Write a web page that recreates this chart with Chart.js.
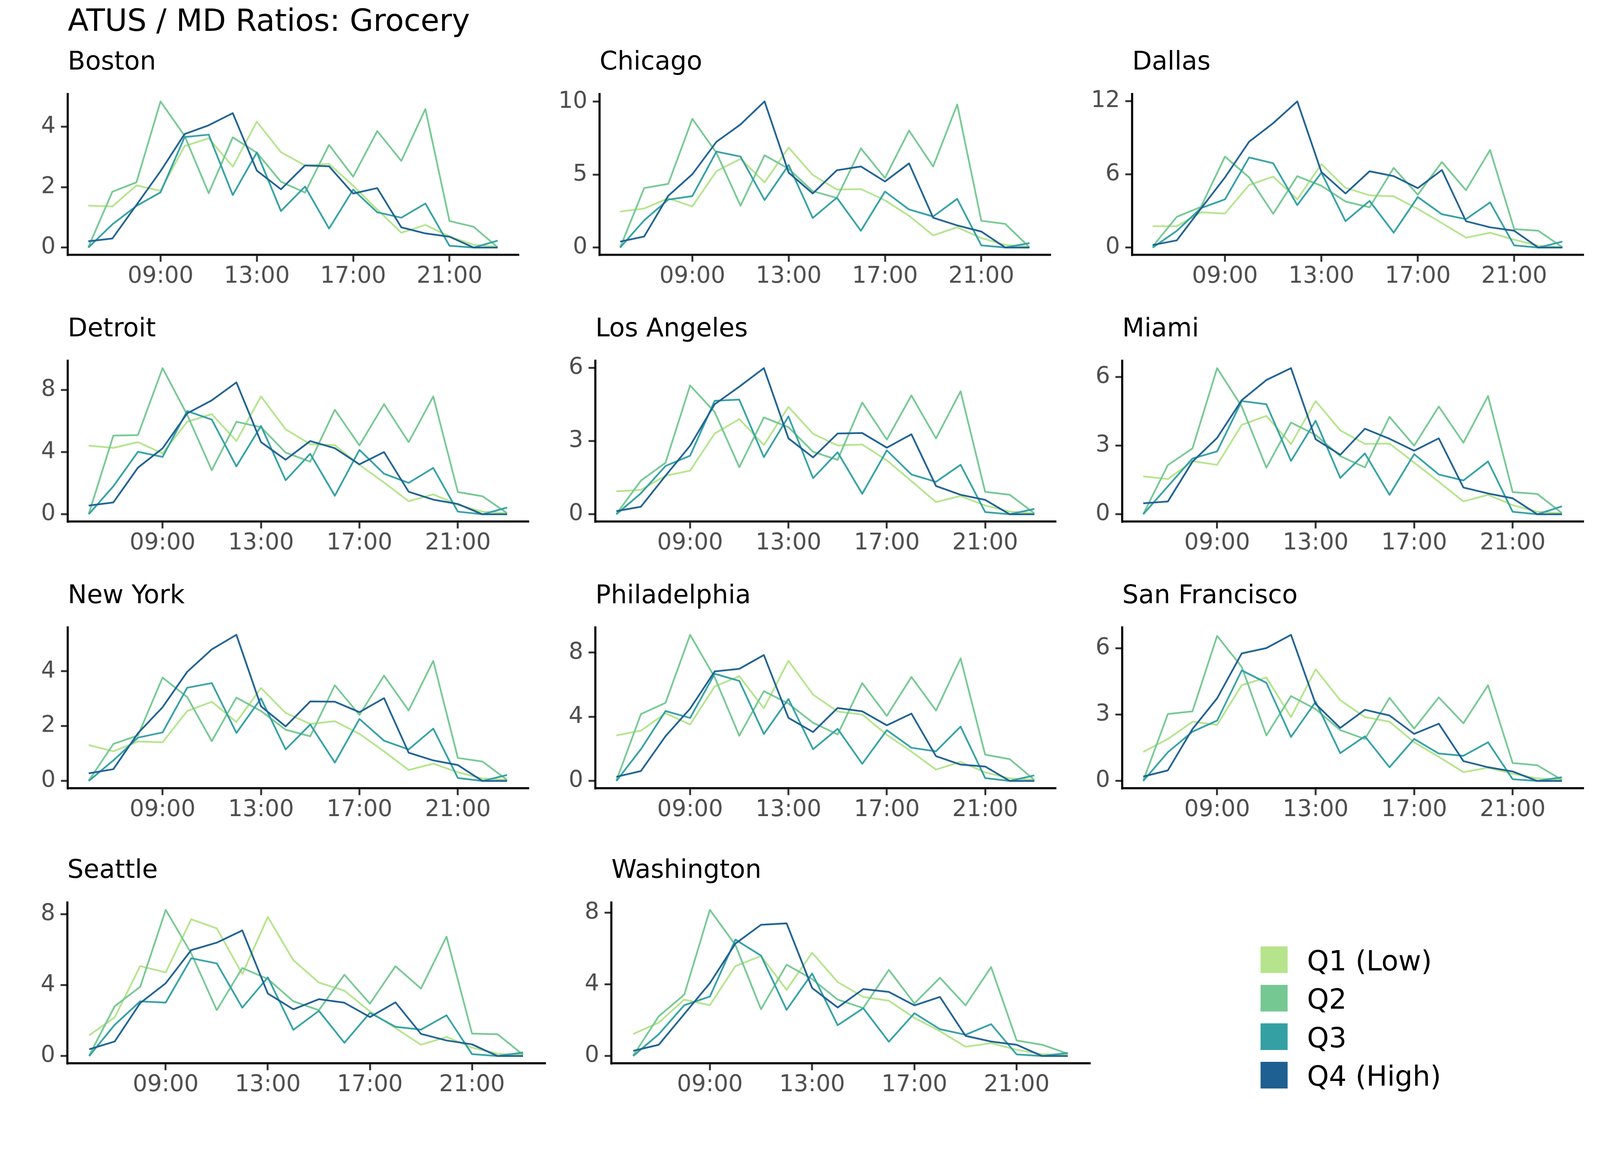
<!DOCTYPE html>
<html>
<head>
<meta charset="utf-8">
<script src="https://cdn.jsdelivr.net/npm/chart.js@4.4.1/dist/chart.umd.min.js"></script>
<style>
  html, body { margin: 0; padding: 0; background: #fff; overflow: hidden; }
  #stage { position: absolute; left: 0; top: 0; width: 4200px; height: 3000px; transform-origin: 0 0; font-family: "DejaVu Sans", sans-serif; background: #fff; }
  .txt { position: absolute; white-space: nowrap; line-height: 1; color: #000; }
  .key { position: absolute; }
  canvas { position: absolute; }
</style>
</head>
<body>
<div id="stage"></div>
<script>
// hours of the day on the x axis
const HOURS = [6, 7, 8, 9, 10, 11, 12, 13, 14, 15, 16, 17, 18, 19, 20, 21, 22, 23];
const X_TICKS = [9, 13, 17, 21];
const SERIES_LABELS = ["Q1 (Low)", "Q2", "Q3", "Q4 (High)"];
const CITIES = ["Boston", "Chicago", "Dallas", "Detroit", "Los Angeles", "Miami",
                "New York", "Philadelphia", "San Francisco", "Seattle", "Washington"];

// values, 06:00 .. 23:00
const bostonQ1 = [1.39, 1.36, 2.06, 1.88, 3.36, 3.62, 2.68, 4.17, 3.16, 2.72, 2.77, 2.05, 1.26, 0.49, 0.75, 0.37, 0.09, 0.03];
const bostonQ2 = [0.01, 1.85, 2.16, 4.84, 3.70, 1.80, 3.65, 3.14, 2.18, 1.82, 3.40, 2.35, 3.86, 2.87, 4.59, 0.88, 0.69, 0.01];
const bostonQ3 = [0.00, 0.77, 1.38, 1.83, 3.66, 3.74, 1.74, 3.15, 1.21, 2.02, 0.63, 1.92, 1.17, 0.99, 1.46, 0.06, 0.00, 0.23];
const bostonQ4 = [0.21, 0.30, 1.41, 2.53, 3.76, 4.05, 4.45, 2.55, 1.93, 2.72, 2.69, 1.79, 1.97, 0.67, 0.47, 0.36, 0.00, 0.00];

const chicagoQ1 = [2.47, 2.68, 3.38, 2.82, 5.24, 6.09, 4.47, 6.86, 4.98, 3.98, 4.01, 3.24, 2.18, 0.84, 1.39, 0.65, 0.18, 0.07];
const chicagoQ2 = [0.00, 4.08, 4.37, 8.83, 6.50, 2.87, 6.33, 5.40, 3.87, 3.40, 6.80, 4.77, 8.02, 5.56, 9.81, 1.84, 1.62, 0.02];
const chicagoQ3 = [0.00, 1.87, 3.29, 3.53, 6.58, 6.24, 3.26, 5.66, 2.03, 3.42, 1.15, 3.84, 2.61, 2.13, 3.34, 0.15, 0.00, 0.31];
const chicagoQ4 = [0.41, 0.76, 3.55, 5.03, 7.25, 8.44, 10.02, 5.14, 3.71, 5.30, 5.56, 4.53, 5.77, 2.05, 1.52, 1.10, 0.00, 0.00];

const dallasQ1 = [1.75, 1.75, 2.89, 2.79, 5.12, 5.81, 3.95, 6.84, 4.89, 4.28, 4.20, 3.17, 2.01, 0.81, 1.22, 0.65, 0.15, 0.06];
const dallasQ2 = [0.09, 2.52, 3.33, 7.45, 5.75, 2.77, 5.85, 5.06, 3.77, 3.30, 6.53, 4.33, 7.01, 4.70, 7.99, 1.51, 1.38, 0.03];
const dallasQ3 = [0.00, 1.37, 3.23, 3.95, 7.38, 6.91, 3.48, 6.13, 2.16, 3.82, 1.22, 4.14, 2.73, 2.33, 3.70, 0.18, 0.00, 0.49];
const dallasQ4 = [0.21, 0.59, 3.19, 5.75, 8.67, 10.19, 11.97, 6.19, 4.43, 6.25, 5.85, 4.87, 6.35, 2.16, 1.66, 1.38, 0.00, 0.00];

const detroitQ1 = [4.41, 4.27, 4.64, 3.92, 5.95, 6.44, 4.71, 7.58, 5.47, 4.51, 4.44, 3.18, 2.04, 0.84, 1.28, 0.61, 0.17, 0.07];
const detroitQ2 = [0.02, 5.06, 5.09, 9.40, 6.40, 2.83, 5.95, 5.60, 3.97, 3.38, 6.72, 4.43, 7.08, 4.64, 7.58, 1.43, 1.16, 0.07];
const detroitQ3 = [0.00, 1.80, 4.02, 3.69, 6.64, 6.09, 3.08, 5.68, 2.19, 3.89, 1.19, 4.14, 2.61, 2.02, 2.98, 0.17, 0.00, 0.43];
const detroitQ4 = [0.56, 0.76, 3.00, 4.24, 6.49, 7.33, 8.48, 4.64, 3.51, 4.71, 4.25, 3.21, 4.00, 1.45, 0.94, 0.66, 0.00, 0.00];

const losAngelesQ1 = [0.94, 1.00, 1.58, 1.79, 3.31, 3.90, 2.84, 4.40, 3.30, 2.82, 2.86, 2.21, 1.36, 0.50, 0.75, 0.36, 0.11, 0.04];
const losAngelesQ2 = [0.01, 1.38, 2.11, 5.28, 4.19, 1.93, 3.97, 3.57, 2.56, 2.23, 4.58, 3.06, 4.87, 3.11, 5.04, 0.92, 0.80, 0.04];
const losAngelesQ3 = [0.00, 0.86, 1.98, 2.40, 4.65, 4.70, 2.34, 4.01, 1.48, 2.54, 0.84, 2.62, 1.63, 1.33, 2.03, 0.09, 0.00, 0.22];
const losAngelesQ4 = [0.13, 0.31, 1.58, 2.81, 4.51, 5.23, 5.99, 3.11, 2.33, 3.31, 3.33, 2.73, 3.28, 1.16, 0.80, 0.59, 0.00, 0.00];

const miamiQ1 = [1.66, 1.54, 2.32, 2.16, 3.91, 4.30, 3.07, 4.95, 3.67, 3.08, 3.09, 2.26, 1.42, 0.56, 0.85, 0.40, 0.11, 0.05];
const miamiQ2 = [0.01, 2.15, 2.88, 6.39, 4.71, 2.04, 4.01, 3.47, 2.54, 2.05, 4.26, 3.00, 4.71, 3.13, 5.17, 0.97, 0.89, 0.05];
const miamiQ3 = [0.00, 1.22, 2.44, 2.75, 4.95, 4.81, 2.33, 4.09, 1.59, 2.66, 0.85, 2.63, 1.74, 1.48, 2.31, 0.11, 0.00, 0.35];
const miamiQ4 = [0.48, 0.56, 2.30, 3.34, 4.99, 5.87, 6.39, 3.28, 2.60, 3.74, 3.30, 2.78, 3.32, 1.17, 0.91, 0.70, 0.00, 0.00];

const newYorkQ1 = [1.31, 1.08, 1.44, 1.41, 2.55, 2.89, 2.15, 3.39, 2.48, 2.08, 2.18, 1.72, 1.08, 0.40, 0.63, 0.32, 0.09, 0.04];
const newYorkQ2 = [0.01, 1.35, 1.66, 3.77, 3.06, 1.45, 3.04, 2.55, 1.87, 1.63, 3.49, 2.41, 3.84, 2.57, 4.38, 0.84, 0.71, 0.04];
const newYorkQ3 = [0.00, 0.75, 1.58, 1.77, 3.40, 3.57, 1.75, 3.01, 1.15, 2.06, 0.67, 2.26, 1.47, 1.15, 1.91, 0.11, 0.00, 0.22];
const newYorkQ4 = [0.28, 0.43, 1.74, 2.69, 3.98, 4.80, 5.33, 2.72, 1.99, 2.90, 2.89, 2.51, 3.02, 1.03, 0.75, 0.58, 0.00, 0.00];

const philadelphiaQ1 = [2.84, 3.14, 4.22, 3.52, 5.89, 6.53, 4.53, 7.49, 5.38, 4.33, 4.14, 2.88, 1.83, 0.71, 1.19, 0.54, 0.16, 0.07];
const philadelphiaQ2 = [0.02, 4.17, 4.87, 9.11, 6.46, 2.82, 5.60, 4.82, 3.63, 2.90, 6.10, 4.06, 6.48, 4.39, 7.64, 1.64, 1.36, 0.07];
const philadelphiaQ3 = [0.00, 1.98, 4.36, 3.93, 6.68, 6.24, 2.93, 5.11, 1.98, 3.25, 1.07, 3.17, 2.07, 1.85, 3.39, 0.18, 0.00, 0.35];
const philadelphiaQ4 = [0.26, 0.62, 2.79, 4.51, 6.83, 6.99, 7.85, 3.93, 3.05, 4.55, 4.34, 3.47, 4.20, 1.55, 1.02, 0.90, 0.00, 0.00];

const sanFranciscoQ1 = [1.31, 1.90, 2.68, 2.54, 4.33, 4.68, 2.89, 5.05, 3.65, 2.89, 2.68, 1.75, 1.09, 0.40, 0.60, 0.33, 0.12, 0.05];
const sanFranciscoQ2 = [0.01, 3.03, 3.15, 6.56, 5.16, 2.06, 3.84, 3.25, 2.30, 1.90, 3.76, 2.37, 3.78, 2.61, 4.33, 0.81, 0.71, 0.05];
const sanFranciscoQ3 = [0.00, 1.30, 2.23, 2.73, 5.00, 4.44, 1.99, 3.58, 1.26, 2.02, 0.62, 1.90, 1.24, 1.14, 1.75, 0.08, 0.00, 0.17];
const sanFranciscoQ4 = [0.20, 0.48, 2.35, 3.74, 5.77, 6.01, 6.61, 3.48, 2.40, 3.22, 2.96, 2.13, 2.59, 0.90, 0.62, 0.43, 0.00, 0.00];

const seattleQ1 = [1.17, 2.18, 5.08, 4.72, 7.72, 7.21, 4.63, 7.85, 5.41, 4.15, 3.69, 2.52, 1.58, 0.64, 1.08, 0.48, 0.13, 0.07];
const seattleQ2 = [0.02, 2.81, 3.91, 8.25, 5.80, 2.59, 4.97, 4.35, 3.09, 2.59, 4.59, 2.96, 5.07, 3.81, 6.74, 1.27, 1.23, 0.07];
const seattleQ3 = [0.00, 1.76, 3.09, 3.02, 5.52, 5.23, 2.73, 4.44, 1.48, 2.55, 0.75, 2.44, 1.65, 1.49, 2.30, 0.11, 0.00, 0.20];
const seattleQ4 = [0.38, 0.82, 2.99, 4.11, 5.98, 6.40, 7.09, 3.53, 2.64, 3.21, 3.01, 2.20, 3.03, 1.25, 0.88, 0.66, 0.00, 0.00];

const washingtonQ1 = [1.23, 1.87, 3.15, 2.84, 5.02, 5.59, 3.70, 5.77, 4.13, 3.30, 3.09, 2.13, 1.39, 0.52, 0.72, 0.35, 0.10, 0.07];
const washingtonQ2 = [0.02, 2.22, 3.43, 8.16, 6.20, 2.61, 5.10, 4.30, 3.15, 2.68, 4.81, 2.94, 4.37, 2.83, 4.97, 0.87, 0.63, 0.13];
const washingtonQ3 = [0.00, 1.22, 2.84, 3.32, 6.50, 5.61, 2.58, 4.61, 1.72, 2.67, 0.80, 2.39, 1.50, 1.19, 1.78, 0.09, 0.00, 0.17];
const washingtonQ4 = [0.29, 0.63, 2.35, 4.07, 6.28, 7.33, 7.41, 3.80, 2.71, 3.74, 3.58, 2.83, 3.30, 1.13, 0.81, 0.63, 0.00, 0.00];

// y tick labels per panel
const bostonTicks = [0, 2, 4];
const chicagoTicks = [0, 5, 10];
const dallasTicks = [0, 6, 12];
const detroitTicks = [0, 4, 8];
const losAngelesTicks = [0, 3, 6];
const miamiTicks = [0, 3, 6];
const newYorkTicks = [0, 2, 4];
const philadelphiaTicks = [0, 4, 8];
const sanFranciscoTicks = [0, 3, 6];
const seattleTicks = [0, 4, 8];
const washingtonTicks = [0, 4, 8];

const SERIES = {
    "Boston": [bostonQ1, bostonQ2, bostonQ3, bostonQ4],
    "Chicago": [chicagoQ1, chicagoQ2, chicagoQ3, chicagoQ4],
    "Dallas": [dallasQ1, dallasQ2, dallasQ3, dallasQ4],
    "Detroit": [detroitQ1, detroitQ2, detroitQ3, detroitQ4],
    "Los Angeles": [losAngelesQ1, losAngelesQ2, losAngelesQ3, losAngelesQ4],
    "Miami": [miamiQ1, miamiQ2, miamiQ3, miamiQ4],
    "New York": [newYorkQ1, newYorkQ2, newYorkQ3, newYorkQ4],
    "Philadelphia": [philadelphiaQ1, philadelphiaQ2, philadelphiaQ3, philadelphiaQ4],
    "San Francisco": [sanFranciscoQ1, sanFranciscoQ2, sanFranciscoQ3, sanFranciscoQ4],
    "Seattle": [seattleQ1, seattleQ2, seattleQ3, seattleQ4],
    "Washington": [washingtonQ1, washingtonQ2, washingtonQ3, washingtonQ4],
};
const Y_TICKS = {
    "Boston": bostonTicks, "Chicago": chicagoTicks, "Dallas": dallasTicks,
    "Detroit": detroitTicks, "Los Angeles": losAngelesTicks, "Miami": miamiTicks,
    "New York": newYorkTicks, "Philadelphia": philadelphiaTicks, "San Francisco": sanFranciscoTicks,
    "Seattle": seattleTicks, "Washington": washingtonTicks,
};

// panel boxes: [y-axis x, x-axis right end, panel top, x-axis y, title baseline]
const PANEL_BOX = {
    "Boston": [178, 1360, 237, 669, 184],
    "Chicago": [1574, 2756, 237, 669, 184],
    "Dallas": [2972, 4155, 237, 669, 184],
    "Detroit": [178, 1386, 937, 1369, 884],
    "Los Angeles": [1563, 2770, 937, 1369, 884],
    "Miami": [2946, 4155, 937, 1369, 884],
    "New York": [178, 1386, 1637, 2069, 1584],
    "Philadelphia": [1563, 2770, 1637, 2069, 1584],
    "San Francisco": [2946, 4155, 1637, 2069, 1584],
    "Seattle": [177, 1430, 2359, 2791, 2305],
    "Washington": [1605, 2860, 2359, 2791, 2305],
};

const COLORS = ["#b5e48c", "#76c893", "#34a0a4", "#1e6091"];
const FONT = '"DejaVu Sans", sans-serif';
const Y_W = 140, X_H = 110, PAD = 40;

// fit the 4200x3000 stage into whatever viewport we get
const stage = document.getElementById('stage');
const fitStage = () => {
    const vw = document.documentElement.clientWidth || window.innerWidth;
    const vh = document.documentElement.clientHeight || window.innerHeight;
    const s = Math.min(vw / 4200, vh / 3000);
    stage.style.transform = 'scale(' + s + ')';
};
fitStage();

// text helper, baseline-positioned (DejaVu: baseline at 0.846em with line-height 1)
const addText = (str, x, baseline, size, color) => {
    const d = document.createElement('div');
    d.className = 'txt';
    d.textContent = str;
    d.style.left = x + 'px';
    d.style.top = (baseline - 0.846 * size) + 'px';
    d.style.fontSize = size + 'px';
    if (color) d.style.color = color;
    stage.appendChild(d);
};

addText("ATUS / MD Ratios: Grocery", 178, 82, 80);

const hh = (v) => (v < 10 ? '0' : '') + v + ':00';

CITIES.forEach((city) => {
    const [ax, rx, top, bottom, titleBase] = PANEL_BOX[city];
    addText(city, ax, titleBase, 67);

    const cv = document.createElement('canvas');
    const left = ax - Y_W;
    const w = rx - left + PAD;
    const h = (bottom - top) + PAD + X_H;
    cv.width = w; cv.height = h;
    cv.style.left = left + 'px';
    cv.style.top = (top - PAD) + 'px';
    cv.style.width = w + 'px';
    cv.style.height = h + 'px';
    stage.appendChild(cv);

    const vals = SERIES[city];
    const yMax = Math.max(...vals.flat());
    const yMin = Math.min(...vals.flat());
    const span = yMax - yMin;

    new Chart(cv, {
        type: 'line',
        data: {
            datasets: vals.map((arr, i) => ({
                label: SERIES_LABELS[i],
                data: arr.map((v, j) => ({ x: HOURS[j], y: v })),
                borderColor: COLORS[i],
                borderWidth: 4.5,
                borderJoinStyle: 'round',
                pointRadius: 0,
                tension: 0,
                fill: false,
                order: 3 - i,
            }))
        },
        options: {
            responsive: false,
            animation: false,
            devicePixelRatio: 1,
            layout: { padding: { top: PAD, right: PAD, left: 0, bottom: 0 } },
            plugins: { legend: { display: false }, tooltip: { enabled: false } },
            scales: {
                x: {
                    type: 'linear',
                    min: 6 - 0.05 * 17,
                    max: 23 + 0.05 * 17,
                    afterBuildTicks: (s) => { s.ticks = X_TICKS.map(v => ({ value: v })); },
                    afterFit: (s) => { s.height = X_H; },
                    grid: { display: true, drawOnChartArea: false, drawTicks: true, tickLength: 18, color: '#333333', lineWidth: 5 },
                    border: { display: true, color: '#000', width: 5.5 },
                    ticks: { color: '#4d4d4d', font: { family: FONT, size: 60 }, padding: 3, maxRotation: 0, callback: (v) => hh(v) },
                },
                y: {
                    min: yMin - 0.05 * span,
                    max: yMax + 0.05 * span,
                    afterBuildTicks: (s) => { s.ticks = Y_TICKS[city].map(v => ({ value: v })); },
                    afterFit: (s) => { s.width = Y_W; },
                    grid: { display: true, drawOnChartArea: false, drawTicks: true, tickLength: 18, color: '#333333', lineWidth: 5 },
                    border: { display: true, color: '#000', width: 5.5 },
                    ticks: { color: '#4d4d4d', font: { family: FONT, size: 60 }, padding: 14, callback: (v) => String(v) },
                }
            }
        }
    });
});

// legend
SERIES_LABELS.forEach((lab, i) => {
    const k = document.createElement('div');
    k.className = 'key';
    k.style.left = '3309px';
    k.style.top = (2484 + i * 101) + 'px';
    k.style.width = '71px';
    k.style.height = '70px';
    k.style.background = COLORS[i];
    stage.appendChild(k);
    addText(lab, 3431, 2547 + i * 101, 73);
});
</script>
</body>
</html>
